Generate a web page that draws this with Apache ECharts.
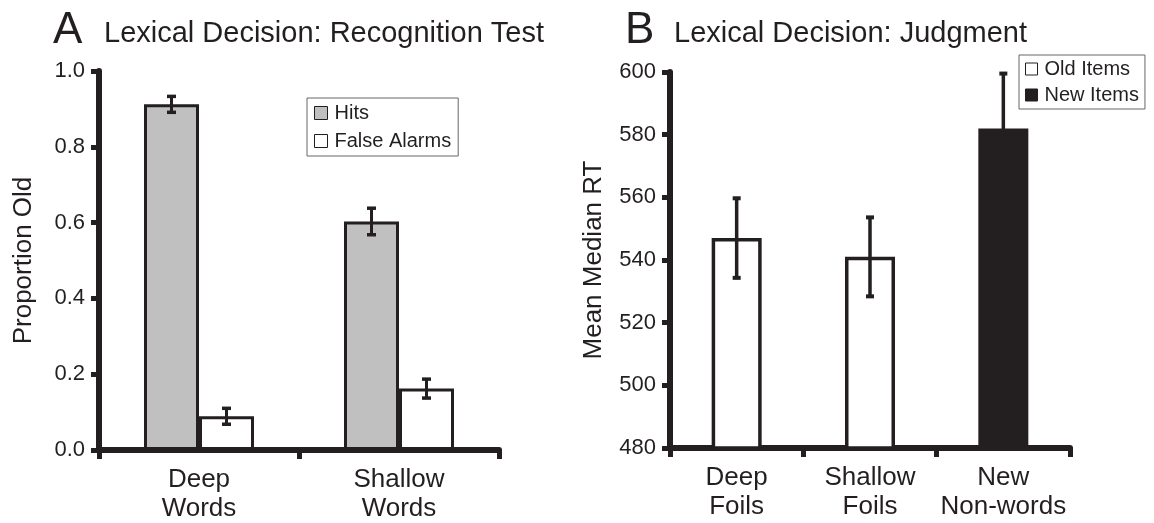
<!DOCTYPE html>
<html>
  <head>
    <meta charset="utf-8" />
    <script src="https://cdn.jsdelivr.net/npm/echarts@6.0.0/dist/echarts.min.js"></script>
    <style>
      body { margin: 0; background: #fff; }
    </style>
  </head>
  <body>
    <div id="main" style="width: 1154px;height:523px;"></div>
    <script type="text/javascript">
      // panel A: recognition test
      var catsA = ['Deep\nWords', 'Shallow\nWords'];
      var hits = [0.912, 0.603];
      var hitsErr = [0.021, 0.035];
      var falseAlarms = [0.089, 0.162];
      var falseAlarmsErr = [0.021, 0.025];
      var ticksA = [0, 0.2, 0.4, 0.6, 0.8, 1.0];

      // panel B: judgment RT
      var catsB = ['Deep\nFoils', 'Shallow\nFoils', 'New\nNon-words'];
      var oldItems = [547, 541, '-'];
      var newItems = ['-', '-', 582];
      var rtErr = [12.7, 12.6, 17.5];
      var ticksB = [480, 500, 520, 540, 560, 580, 600];

      var ink = '#231f20';
      var font = "'Liberation Sans', Arial, Helvetica, sans-serif";
      var barWA = 55;
      var barWB = 50;

      function errData(means, errs) {
        return means.map(function (m, i) {
          if (m === '-') return null;
          return [i, m - errs[i], m + errs[i]];
        }).filter(function (d) { return d; });
      }

      function errSeries(gi, data, offset, lw, capW) {
        return {
          type: 'custom',
          name: 'err' + gi + offset,
          xAxisIndex: gi,
          yAxisIndex: gi,
          z: 10,
          data: data,
          renderItem: function (params, api) {
            var lo = api.coord([api.value(0), api.value(1)]);
            var hi = api.coord([api.value(0), api.value(2)]);
            var x = lo[0] + offset;
            var st = { stroke: ink, lineWidth: lw };
            var cap = { stroke: ink, lineWidth: lw + 0.5 };
            return {
              type: 'group',
              children: [
                { type: 'line', shape: { x1: x, y1: lo[1], x2: x, y2: hi[1] }, style: st },
                { type: 'line', shape: { x1: x - capW / 2, y1: hi[1], x2: x + capW / 2, y2: hi[1] }, style: cap },
                { type: 'line', shape: { x1: x - capW / 2, y1: lo[1], x2: x + capW / 2, y2: lo[1] }, style: cap }
              ]
            };
          }
        };
      }

      function xAxisCfg(gi, cats) {
        return {
          type: 'category',
          gridIndex: gi,
          data: cats,
          axisLine: { lineStyle: { color: ink, width: 6 } },
          axisTick: { show: true, length: 9, lineStyle: { color: ink, width: 5 } },
          axisLabel: { color: ink, fontSize: 26, lineHeight: 29, fontFamily: font, margin: 15, interval: 0 },
          splitLine: { show: false }
        };
      }

      function yAxisCfg(gi, ticks, name, fmt, gap) {
        return {
          type: 'value',
          gridIndex: gi,
          min: ticks[0],
          max: ticks[ticks.length - 1],
          interval: ticks[1] - ticks[0],
          name: name,
          nameLocation: 'middle',
          nameRotate: 90,
          nameGap: gap,
          nameTextStyle: { color: ink, fontSize: 26, fontFamily: font },
          axisLine: { show: true, lineStyle: { color: ink, width: 6 } },
          axisTick: { show: true, length: 8, lineStyle: { color: ink, width: 5 } },
          axisLabel: { color: ink, fontSize: 22, fontFamily: font, margin: 14, formatter: fmt },
          splitLine: { show: false }
        };
      }

      var myChart = echarts.init(document.getElementById('main'));
      var option = {
        animation: false,
        backgroundColor: '#fff',
        textStyle: { fontFamily: font },
        title: [
          { text: 'A', left: 53, top: 9, padding: 0, textStyle: { color: ink, fontSize: 44, fontWeight: 'normal', fontFamily: font } },
          { text: 'Lexical Decision: Recognition Test', left: 104, top: 19, padding: 0, textStyle: { color: ink, fontSize: 29, fontWeight: 'normal', fontFamily: font } },
          { text: 'B', left: 625, top: 9, padding: 0, textStyle: { color: ink, fontSize: 44, fontWeight: 'normal', fontFamily: font } },
          { text: 'Lexical Decision: Judgment', left: 674, top: 19, padding: 0, textStyle: { color: ink, fontSize: 29, fontWeight: 'normal', fontFamily: font } }
        ],
        legend: [
          {
            data: ['Hits', 'False Alarms'],
            orient: 'vertical',
            left: 307, top: 98,
            padding: [5, 7],
            itemWidth: 13, itemHeight: 13, itemGap: 8,
            icon: 'rect',
            borderColor: '#666', borderWidth: 1,
            itemStyle: { borderColor: ink, borderWidth: 1 },
            textStyle: { color: ink, fontSize: 20, fontFamily: font, padding: [0, 0, 0, 2] }
          },
          {
            data: ['Old Items', 'New Items'],
            orient: 'vertical',
            left: 1019, top: 55,
            padding: [4, 6],
            itemWidth: 12, itemHeight: 12, itemGap: 6,
            icon: 'rect',
            borderColor: '#666', borderWidth: 1,
            itemStyle: { borderColor: ink, borderWidth: 1 },
            textStyle: { color: ink, fontSize: 20, fontFamily: font, padding: [0, 0, 0, 2] }
          }
        ],
        grid: [
          { left: 99, top: 71, width: 400, height: 380 },
          { left: 670, top: 72, width: 400, height: 376 }
        ],
        xAxis: [xAxisCfg(0, catsA), xAxisCfg(1, catsB)],
        yAxis: [
          yAxisCfg(0, ticksA, 'Proportion Old', function (v) { return v.toFixed(1); }, 62),
          yAxisCfg(1, ticksB, 'Mean Median RT', function (v) { return v; }, 63)
        ],
        series: [
          {
            name: 'Hits', type: 'bar', xAxisIndex: 0, yAxisIndex: 0,
            data: hits, barWidth: barWA, barGap: '0%',
            itemStyle: { color: '#c0c0c0', borderColor: ink, borderWidth: 3 }
          },
          {
            name: 'False Alarms', type: 'bar', xAxisIndex: 0, yAxisIndex: 0,
            data: falseAlarms, barWidth: barWA, barGap: '0%',
            itemStyle: { color: '#fff', borderColor: ink, borderWidth: 3 }
          },
          errSeries(0, errData(hits, hitsErr), -barWA / 2, 3, 9),
          errSeries(0, errData(falseAlarms, falseAlarmsErr), barWA / 2, 3, 9),
          {
            name: 'Old Items', type: 'bar', xAxisIndex: 1, yAxisIndex: 1,
            data: oldItems, barWidth: barWB, barGap: '-100%',
            itemStyle: { color: '#fff', borderColor: ink, borderWidth: 3.5 }
          },
          {
            name: 'New Items', type: 'bar', xAxisIndex: 1, yAxisIndex: 1,
            data: newItems, barWidth: barWB, barGap: '-100%',
            itemStyle: { color: ink, borderColor: ink, borderWidth: 3.5 }
          },
          errSeries(1, errData(oldItems.map(function (v, i) { return v === '-' ? newItems[i] : v; }), rtErr), 0, 3.5, 8)
        ]
      };
      myChart.setOption(option);
    </script>
  </body>
</html>
